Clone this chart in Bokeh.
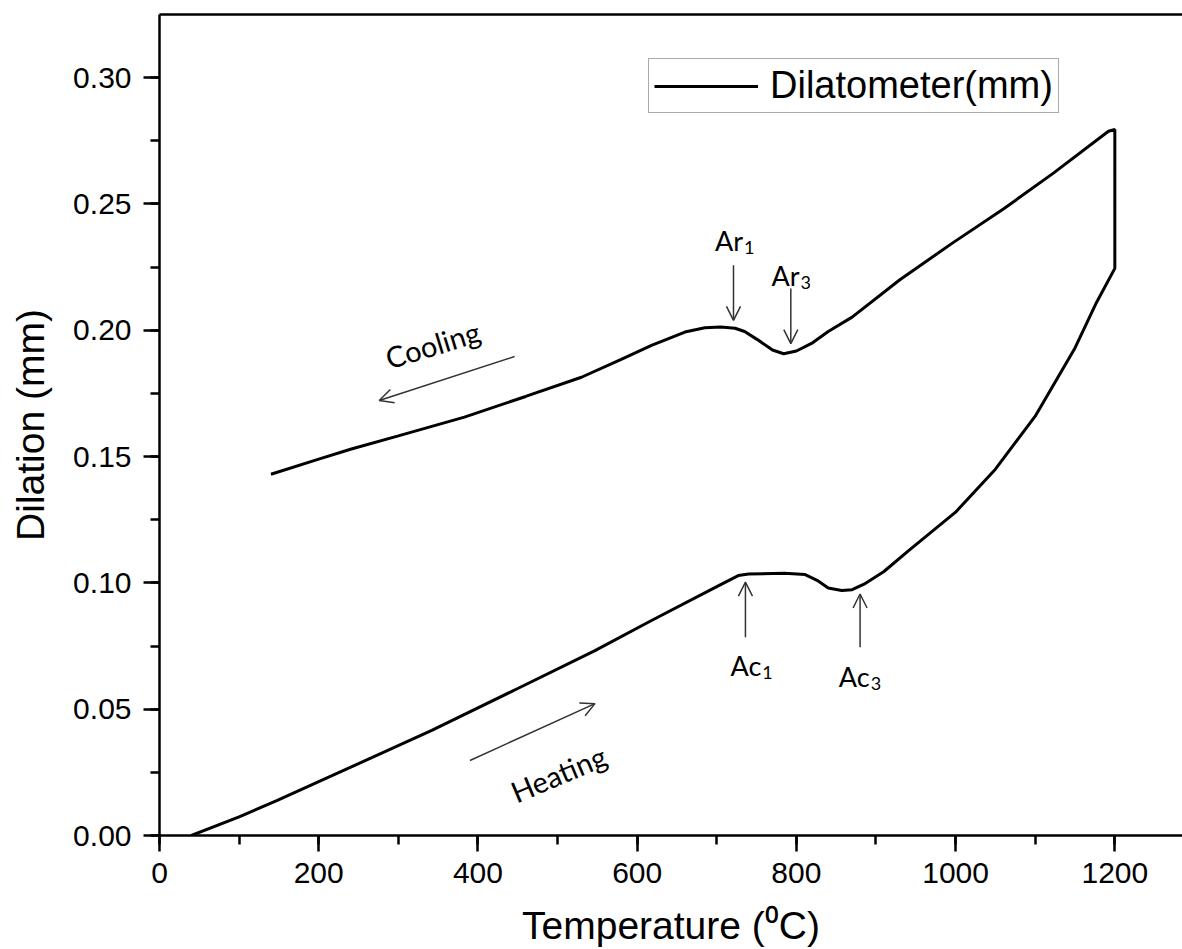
import numpy as np
from bokeh.plotting import figure
from bokeh.models import (Range1d, SingleIntervalTicker, PrintfTickFormatter, LinearAxis,
                          Arrow, OpenHead, ColumnDataSource, Legend, LegendItem)
from bokeh.core.properties import value
from bokeh.embed import file_html
from bokeh.resources import INLINE

# ---- data ----
heat_temp = [40, 100, 148, 200, 342, 450, 547, 618, 700, 727, 740, 785, 811, 826, 840, 857,
             870, 885, 910, 941, 1000, 1050, 1100, 1150, 1177, 1200]
heat_dil = [0.0, 0.0074, 0.0139, 0.0213, 0.0416, 0.0582, 0.0732, 0.0851, 0.0985, 0.1029,
            0.1035, 0.1038, 0.1033, 0.1010, 0.0980, 0.0970, 0.0973, 0.0995, 0.1045, 0.1128,
            0.1280, 0.1450, 0.1660, 0.1930, 0.2110, 0.2245]
cool_temp = [1200, 1192, 1122, 1060, 995, 930, 870, 840, 819, 800, 784, 770, 765, 750, 735,
             723, 705, 685, 660, 618, 580, 530, 460, 383, 300, 241, 200, 140]
cool_dil = [0.2795, 0.2788, 0.2620, 0.2480, 0.2343, 0.2200, 0.2052, 0.1995, 0.1948, 0.1918,
            0.1907, 0.1922, 0.1933, 0.1965, 0.1995, 0.2008, 0.2013, 0.2010, 0.1993, 0.1940,
            0.1885, 0.1814, 0.1738, 0.1656, 0.1582, 0.1530, 0.1490, 0.1430]

series_name = "Dilatometer(mm)"
x_label = "Temperature (\u2070C)"
y_label = "Dilation (mm)"

phase_base = ["Ar", "Ar", "Ac", "Ac"]
phase_sub = ["1", "3", "1", "3"]
phase_x = [733, 804, 756, 892]
phase_y = [0.2356, 0.2218, 0.0672, 0.0628]

arrow_x0 = [721, 793, 736, 880, 446, 390]
arrow_y0 = [0.2257, 0.2165, 0.0785, 0.0745, 0.1896, 0.0297]
arrow_x1 = [721, 793, 736, 880, 276, 547]
arrow_y1 = [0.2039, 0.1947, 0.1003, 0.0956, 0.1722, 0.0522]

dir_labels = ["Cooling", "Heating"]
dir_x = [343, 501]
dir_y = [0.1944, 0.0245]
dir_angle_deg = [17, 23]

# ---- figure ----
p = figure(width=1182, height=949, x_range=Range1d(0, 1285), y_range=Range1d(0, 0.325),
           output_backend="svg", toolbar_location=None,
           min_border_left=159, min_border_right=0, min_border_top=14, min_border_bottom=114,
           x_axis_label=x_label, y_axis_label=y_label)
p.grid.visible = False
p.outline_line_color = None
p.background_fill_color = "white"
p.border_fill_color = "white"

all_x = heat_temp + cool_temp
all_y = heat_dil + cool_dil
r = p.line(all_x, all_y, line_color="black", line_width=3)

p.xaxis[0].ticker = SingleIntervalTicker(interval=200, num_minor_ticks=2)
p.yaxis[0].ticker = SingleIntervalTicker(interval=0.05, num_minor_ticks=2)
p.yaxis[0].formatter = PrintfTickFormatter(format="%.2f")

for ax in [p.xaxis[0], p.yaxis[0]]:
    ax.axis_line_width = 2.5
    ax.axis_line_color = "black"
    ax.major_tick_line_width = 2.5
    ax.minor_tick_line_width = 2.5
    ax.major_tick_line_color = "black"
    ax.minor_tick_line_color = "black"
    ax.major_tick_in = 0
    ax.major_tick_out = 16
    ax.minor_tick_in = 0
    ax.minor_tick_out = 9
    ax.major_label_text_font = "Liberation Sans"
    ax.major_label_text_font_size = "30px"
    ax.major_label_text_color = "black"
    ax.axis_label_text_font = "Liberation Sans"
    ax.axis_label_text_font_size = "39px"
    ax.axis_label_text_font_style = "normal"
    ax.axis_label_text_color = "black"

p.xaxis[0].major_label_standoff = 11
p.xaxis[0].axis_label_standoff = 18
p.yaxis[0].major_label_standoff = 12
p.yaxis[0].axis_label_standoff = 18

top_axis = LinearAxis(axis_line_width=2.5, axis_line_color="black",
                      major_tick_line_color=None, minor_tick_line_color=None,
                      major_label_text_font_size="0px", major_label_text_color=None)
p.add_layout(top_axis, "above")

legend = Legend(items=[LegendItem(label=series_name, renderers=[r])],
                location=(489, 722), orientation="vertical",
                label_text_font="Liberation Sans", label_text_font_size="38px",
                label_text_color="black", label_text_line_height=1.0,
                glyph_width=104, glyph_height=30, label_standoff=12,
                padding=5, spacing=0, margin=0,
                border_line_color="#555555", border_line_width=1.5,
                background_fill_color="white", background_fill_alpha=1.0)
p.add_layout(legend, "center")

arrow_src = ColumnDataSource(dict(x0=arrow_x0, y0=arrow_y0, x1=arrow_x1, y1=arrow_y1))
p.add_layout(Arrow(end=OpenHead(size=14, line_width=1.5, line_color="#333333"),
                   x_start="x0", y_start="y0", x_end="x1", y_end="y1", source=arrow_src,
                   line_width=1.5, line_color="#333333"))

phase_src = ColumnDataSource(dict(x=phase_x, y=phase_y, b=phase_base, s=phase_sub))
p.text(x="x", y="y", text="b", source=phase_src, text_font=value("Lato"),
       text_font_size="27px", text_align="right", text_baseline="alphabetic",
       text_color="black")
p.text(x="x", y="y", text="s", source=phase_src, text_font=value("Lato"),
       text_font_size="18px", text_align="left", text_baseline="alphabetic",
       y_offset=7, x_offset=1, text_color="black")

dir_src = ColumnDataSource(dict(x=dir_x, y=dir_y, t=dir_labels,
                                a=[np.deg2rad(a) for a in dir_angle_deg]))
p.text(x="x", y="y", text="t", angle="a", source=dir_src, text_font=value("Lato"),
       text_font_size="29px", text_align="center", text_baseline="middle",
       text_color="black")

open("out.html", "w").write(file_html(p, INLINE))
